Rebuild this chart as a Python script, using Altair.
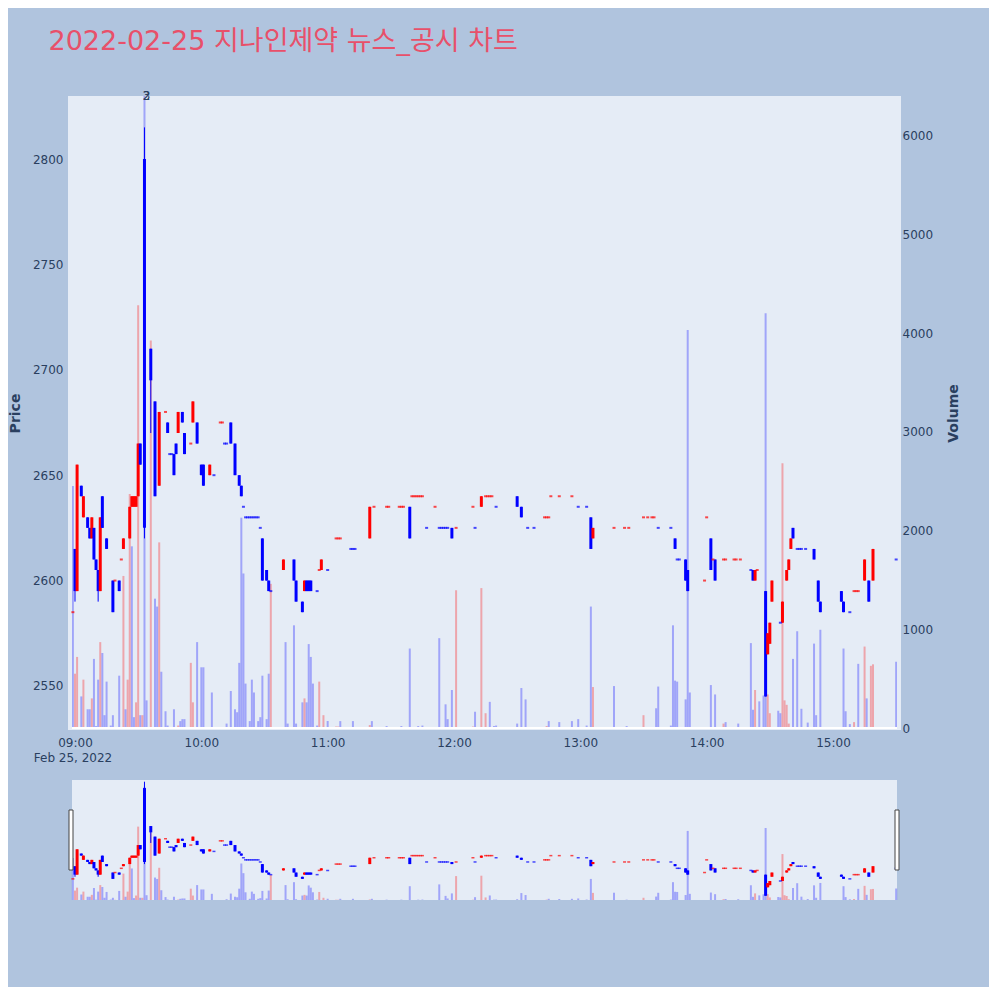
import altair as alt
import pandas as pd

TITLE = "2022-02-25 지나인제약 뉴스_공시 차트"

# ---- minute candles (minutes after 09:00) ----
c_minute = [-1, 0, 1, 3, 4, 6, 7, 8, 9, 10,
            11, 12, 13, 15, 18, 19, 21, 22, 23, 26,
            27, 28, 29, 30, 31, 33, 36, 38, 40, 43,
            44, 45, 46, 47, 48, 49, 51, 52, 55, 56,
            58, 60, 61, 64, 66, 69, 70, 71, 72, 74,
            76, 78, 79, 80, 81, 82, 83, 84, 85, 86,
            87, 88, 89, 91, 92, 93, 99, 104, 105, 108,
            109, 110, 111, 112, 115, 116, 117, 120, 124, 125,
            126, 131, 132, 133, 140, 142, 148, 149, 154, 155,
            156, 159, 160, 161, 162, 163, 164, 165, 167, 171,
            173, 174, 175, 176, 177, 179, 181, 189, 190, 193,
            195, 196, 197, 198, 200, 210, 212, 215, 218, 223,
            224, 225, 226, 230, 236, 239, 243, 245, 246, 256,
            261, 263, 270, 272, 274, 275, 277, 283, 285, 286,
            287, 290, 291, 299, 300, 302, 303, 304, 308, 309,
            313, 314, 316, 321, 322, 323, 324, 328, 329, 330,
            331, 335, 336, 338, 339, 340, 341, 343, 344, 345,
            347, 351, 353, 354, 364, 365, 368, 370, 371, 372,
            375, 377, 379, 390]
c_open = [2585, 2615, 2595, 2645, 2630, 2630, 2625, 2620, 2625, 2610,
          2605, 2595, 2640, 2620, 2600, 2600, 2600, 2610, 2615, 2620,
          2635, 2635, 2635, 2640, 2665, 2800, 2710, 2685, 2645, 2680,
          2675, 2660, 2660, 2660, 2665, 2670, 2680, 2670, 2665, 2675,
          2675, 2655, 2655, 2650, 2650, 2675, 2675, 2665, 2665, 2675,
          2665, 2650, 2645, 2635, 2630, 2630, 2630, 2630, 2630, 2630,
          2630, 2625, 2620, 2605, 2600, 2595, 2605, 2610, 2600, 2590,
          2595, 2600, 2600, 2600, 2595, 2605, 2605, 2605, 2620, 2620,
          2620, 2615, 2615, 2615, 2620, 2635, 2635, 2635, 2635, 2635,
          2635, 2635, 2640, 2640, 2640, 2640, 2640, 2640, 2625, 2635,
          2625, 2625, 2625, 2625, 2625, 2625, 2625, 2635, 2625, 2635,
          2640, 2640, 2640, 2640, 2635, 2640, 2635, 2625, 2625, 2630,
          2630, 2630, 2640, 2640, 2640, 2635, 2635, 2630, 2620, 2625,
          2625, 2625, 2630, 2630, 2630, 2630, 2625, 2625, 2620, 2610,
          2610, 2610, 2605, 2600, 2630, 2620, 2610, 2610, 2610, 2610,
          2610, 2610, 2610, 2605, 2605, 2600, 2605, 2595, 2565, 2570,
          2590, 2580, 2580, 2600, 2605, 2615, 2625, 2615, 2615, 2615,
          2615, 2615, 2600, 2590, 2595, 2590, 2585, 2595, 2595, 2595,
          2600, 2600, 2600, 2610]
c_high = [2585, 2615, 2655, 2645, 2640, 2630, 2625, 2630, 2625, 2610,
          2605, 2630, 2640, 2620, 2600, 2600, 2600, 2610, 2620, 2635,
          2640, 2640, 2640, 2665, 2665, 2815, 2710, 2685, 2680, 2680,
          2675, 2660, 2660, 2660, 2665, 2680, 2680, 2670, 2665, 2685,
          2675, 2655, 2655, 2655, 2650, 2675, 2675, 2665, 2665, 2675,
          2665, 2650, 2645, 2635, 2630, 2630, 2630, 2630, 2630, 2630,
          2630, 2625, 2620, 2605, 2600, 2595, 2610, 2610, 2600, 2590,
          2600, 2600, 2600, 2600, 2595, 2605, 2610, 2605, 2620, 2620,
          2620, 2615, 2615, 2615, 2635, 2635, 2635, 2635, 2635, 2635,
          2635, 2635, 2640, 2640, 2640, 2640, 2640, 2640, 2625, 2635,
          2625, 2625, 2625, 2625, 2625, 2625, 2625, 2635, 2625, 2640,
          2640, 2640, 2640, 2640, 2635, 2640, 2635, 2625, 2625, 2630,
          2630, 2630, 2640, 2640, 2640, 2635, 2635, 2630, 2625, 2625,
          2625, 2625, 2630, 2630, 2630, 2630, 2625, 2625, 2620, 2610,
          2610, 2610, 2605, 2600, 2630, 2620, 2610, 2610, 2610, 2610,
          2610, 2610, 2610, 2605, 2605, 2605, 2605, 2595, 2575, 2580,
          2600, 2580, 2590, 2605, 2610, 2620, 2625, 2615, 2615, 2615,
          2615, 2615, 2600, 2590, 2595, 2590, 2585, 2595, 2595, 2595,
          2610, 2600, 2615, 2610]
c_low = [2585, 2590, 2595, 2640, 2630, 2625, 2620, 2620, 2610, 2605,
         2590, 2595, 2625, 2615, 2585, 2600, 2595, 2610, 2615, 2620,
         2635, 2635, 2635, 2640, 2655, 2620, 2670, 2640, 2645, 2680,
         2670, 2660, 2660, 2650, 2660, 2670, 2675, 2660, 2665, 2675,
         2665, 2650, 2645, 2650, 2650, 2675, 2675, 2665, 2665, 2665,
         2650, 2645, 2640, 2635, 2630, 2630, 2630, 2630, 2630, 2630,
         2630, 2625, 2600, 2600, 2595, 2595, 2605, 2600, 2590, 2585,
         2595, 2595, 2595, 2595, 2595, 2605, 2605, 2605, 2620, 2620,
         2620, 2615, 2615, 2615, 2620, 2635, 2635, 2635, 2635, 2635,
         2635, 2620, 2640, 2640, 2640, 2640, 2640, 2640, 2625, 2635,
         2625, 2625, 2625, 2625, 2625, 2620, 2625, 2635, 2625, 2635,
         2640, 2640, 2640, 2640, 2635, 2635, 2630, 2625, 2625, 2630,
         2630, 2630, 2640, 2640, 2640, 2635, 2635, 2615, 2620, 2625,
         2625, 2625, 2630, 2630, 2630, 2630, 2625, 2625, 2615, 2610,
         2610, 2600, 2595, 2600, 2630, 2605, 2610, 2600, 2610, 2610,
         2610, 2610, 2610, 2605, 2600, 2600, 2605, 2545, 2565, 2570,
         2590, 2580, 2580, 2600, 2605, 2615, 2620, 2615, 2615, 2615,
         2615, 2610, 2590, 2585, 2590, 2585, 2585, 2595, 2595, 2595,
         2600, 2590, 2600, 2610]
c_close = [2585, 2595, 2655, 2640, 2640, 2625, 2620, 2630, 2610, 2605,
           2595, 2630, 2625, 2615, 2585, 2600, 2595, 2610, 2620, 2635,
           2640, 2640, 2640, 2665, 2655, 2625, 2695, 2640, 2680, 2680,
           2670, 2660, 2660, 2650, 2660, 2680, 2675, 2660, 2665, 2685,
           2665, 2650, 2645, 2655, 2650, 2675, 2675, 2665, 2665, 2665,
           2650, 2645, 2640, 2635, 2630, 2630, 2630, 2630, 2630, 2630,
           2630, 2625, 2600, 2600, 2595, 2595, 2610, 2600, 2590, 2585,
           2600, 2595, 2595, 2595, 2595, 2605, 2610, 2605, 2620, 2620,
           2620, 2615, 2615, 2615, 2635, 2635, 2635, 2635, 2635, 2635,
           2635, 2620, 2640, 2640, 2640, 2640, 2640, 2640, 2625, 2635,
           2625, 2625, 2625, 2625, 2625, 2620, 2625, 2635, 2625, 2640,
           2640, 2640, 2640, 2640, 2635, 2635, 2630, 2625, 2625, 2630,
           2630, 2630, 2640, 2640, 2640, 2635, 2635, 2615, 2625, 2625,
           2625, 2625, 2630, 2630, 2630, 2630, 2625, 2625, 2615, 2610,
           2610, 2600, 2595, 2600, 2630, 2605, 2610, 2600, 2610, 2610,
           2610, 2610, 2610, 2605, 2600, 2605, 2605, 2545, 2575, 2580,
           2600, 2580, 2590, 2605, 2610, 2620, 2620, 2615, 2615, 2615,
           2615, 2610, 2590, 2585, 2590, 2585, 2585, 2595, 2595, 2595,
           2610, 2590, 2615, 2610]

# ---- minute volumes ----
v_minute = [-1, 0, 1, 3, 4, 6, 7, 8, 9, 10,
            11, 12, 13, 14, 15, 17, 18, 19, 21, 23,
            24, 25, 26, 27, 28, 29, 30, 31, 32, 33,
            34, 36, 38, 39, 40, 41, 43, 44, 47, 49,
            50, 51, 52, 55, 56, 58, 60, 61, 65, 72,
            74, 76, 77, 78, 79, 80, 81, 83, 84, 85,
            87, 88, 89, 91, 92, 93, 100, 101, 104, 105,
            108, 109, 110, 111, 112, 113, 115, 116, 118, 120,
            124, 125, 126, 132, 140, 141, 148, 155, 159, 163,
            165, 173, 176, 177, 179, 181, 189, 190, 193, 195,
            197, 199, 200, 210, 212, 214, 224, 225, 230, 236,
            239, 243, 245, 246, 256, 262, 270, 276, 277, 283,
            284, 285, 286, 290, 291, 292, 302, 304, 308, 309,
            315, 321, 322, 323, 325, 327, 328, 329, 330, 334,
            335, 336, 337, 338, 339, 341, 343, 345, 346, 348,
            351, 352, 354, 365, 366, 368, 370, 372, 375, 376,
            378, 379, 390]
v_volume = [2450, 550, 720, 320, 490, 190, 190, 300, 700, 20,
            490, 870, 760, 130, 470, 25, 130, 10, 530, 1540,
            190, 490, 2370, 1840, 110, 260, 4280, 130, 130, 6600,
            280, 3925, 1310, 1230, 1880, 570, 170, 25, 190, 25,
            70, 90, 90, 660, 260, 870, 615, 615, 360, 45,
            375, 190, 160, 660, 2130, 1565, 450, 70, 490, 360,
            70, 110, 530, 90, 550, 1460, 870, 45, 1040, 45,
            260, 300, 260, 850, 720, 450, 25, 470, 130, 70,
            15, 15, 70, 70, 30, 70, 20, 20, 805, 20,
            25, 910, 240, 90, 385, 1395, 15, 165, 1417, 150,
            265, 20, 25, 45, 405, 290, 20, 70, 60, 70,
            90, 25, 1230, 415, 425, 20, 130, 200, 420, 25,
            1040, 480, 470, 290, 4030, 360, 435, 340, 45, 60,
            45, 860, 185, 385, 270, 330, 4200, 340, 150, 175,
            150, 2680, 280, 235, 45, 700, 980, 195, 10, 55,
            855, 130, 995, 805, 170, 40, 60, 650, 825, 300,
            630, 645, 670]
v_up = [0, 1, 1, 0, 1, 0, 0, 1, 0, 0,
        0, 1, 0, 0, 0, 0, 0, 1, 0, 1,
        0, 1, 1, 0, 0, 1, 1, 0, 1, 0,
        0, 1, 0, 0, 1, 0, 0, 0, 0, 1,
        0, 0, 0, 1, 1, 0, 0, 0, 0, 0,
        0, 0, 0, 0, 0, 0, 0, 0, 0, 0,
        0, 0, 0, 0, 0, 1, 0, 0, 0, 0,
        0, 1, 0, 0, 0, 0, 0, 1, 1, 0,
        1, 1, 0, 0, 1, 0, 0, 0, 0, 0,
        0, 0, 0, 0, 0, 1, 1, 0, 1, 1,
        0, 0, 0, 0, 0, 0, 1, 0, 0, 0,
        0, 0, 0, 1, 0, 0, 1, 0, 0, 0,
        0, 0, 0, 0, 0, 0, 0, 0, 1, 0,
        0, 0, 0, 1, 0, 0, 0, 1, 1, 0,
        0, 1, 1, 1, 1, 0, 0, 0, 0, 0,
        0, 0, 0, 0, 0, 0, 1, 0, 1, 0,
        1, 1, 0]

news_minute = [34, 34]
news_label = ["2", "3"]

x_ticks = [0, 60, 120, 180, 240, 300, 360]
price_ticks = [2550, 2600, 2650, 2700, 2750, 2800]
vol_ticks = [0, 1000, 2000, 3000, 4000, 5000, 6000]

# ---- tables ----
candles = pd.DataFrame({"minute": c_minute, "open": c_open, "high": c_high,
                        "low": c_low, "close": c_close})
dirs = []
last_dir, prev_close = "up", None
for o, c in zip(c_open, c_close):
    if c > o:
        d = "up"
    elif c < o:
        d = "down"
    elif prev_close is not None and c > prev_close:
        d = "up"
    elif prev_close is not None and c < prev_close:
        d = "down"
    else:
        d = last_dir
    dirs.append(d)
    last_dir, prev_close = d, c
candles["dir"] = dirs

vols = pd.DataFrame({"minute": v_minute, "volume": v_volume,
                     "dir": ["up" if u else "down" for u in v_up]})
news = pd.DataFrame({"minute": news_minute, "label": news_label})
one = pd.DataFrame({"k": [0]})

W = 825
MAIN_H = 634
SL_TOP, SL_BOT = 684, 804
H = SL_BOT
AX_FONT = "DejaVu Sans"
AX_COLOR = "#2a3f5f"

x_axis = alt.Axis(values=x_ticks, grid=False, ticks=False, tickSize=0, domain=False,
                  labelExpr="(datum.value/60 + 9 < 10 ? '0' : '') + (datum.value/60 + 9) + ':00'",
                  labelFont=AX_FONT, labelFontSize=12, labelColor=AX_COLOR,
                  labelFlush=False, labelPadding=7, offset=-(H - MAIN_H), title=None)
x_enc = alt.X("minute:Q", scale=alt.Scale(domain=[-1.42, 390.4], nice=False, zero=False,
                                          padding=0),
              axis=x_axis)
color_enc = alt.Color("dir:N", scale=alt.Scale(domain=["up", "down"],
                                               range=["#ff0000", "#0000ff"]), legend=None)

price_scale = alt.Scale(domain=[2529.1, 2829.9], range=[MAIN_H, 0], nice=False, zero=False,
                        padding=0)
price_axis = alt.Axis(values=price_ticks, orient="left", format="d", grid=True,
                      gridColor="white", gridWidth=1, ticks=False, tickSize=0, domain=False,
                      labelFont=AX_FONT, labelFontSize=12, labelColor=AX_COLOR, labelPadding=9,
                      title="Price", titleFont=AX_FONT, titleFontSize=14, titleFontWeight="bold",
                      titleColor=AX_COLOR, titlePadding=10)
vol_scale = alt.Scale(domain=[-20, 6400], range=[MAIN_H, 0], nice=False, zero=False, padding=0)
vol_axis = alt.Axis(values=vol_ticks, orient="right", format="d", grid=True,
                    gridColor="#a0a0a0", gridWidth=1.5, ticks=False, tickSize=0, domain=False,
                    labelFont=AX_FONT, labelFontSize=12, labelColor=AX_COLOR, labelPadding=5,
                    title="Volume", titleFont=AX_FONT, titleFontSize=14, titleFontWeight="bold",
                    titleColor=AX_COLOR, titlePadding=28, titleAngle=270)
sl_price_scale = alt.Scale(domain=[2535, 2819], range=[SL_BOT, SL_TOP], nice=False, zero=False,
                           padding=0)
sl_vol_scale = alt.Scale(domain=[0, 7000], range=[SL_BOT, SL_TOP], nice=False, zero=False,
                         padding=0)

# backgrounds
main_bg = alt.Chart(one).mark_rect(color="#e5ecf6").encode(
    x=alt.value(-4), x2=alt.value(W + 4), y=alt.value(0), y2=alt.value(MAIN_H))
sl_bg = alt.Chart(one).mark_rect(color="#e5ecf6").encode(
    x=alt.value(0), x2=alt.value(W), y=alt.value(SL_TOP), y2=alt.value(SL_BOT))

# main volume
vol_bars = alt.Chart(vols).mark_bar(size=2, opacity=0.3, clip=True).encode(
    x=x_enc, y=alt.Y("volume:Q", scale=vol_scale, axis=vol_axis), y2=alt.datum(0),
    color=color_enc)
vol_zero = alt.Chart(one).mark_rule(color="white", strokeWidth=2).encode(
    x=alt.value(0), x2=alt.value(W), y=alt.datum(0, type="quantitative"))
vol_layer = alt.layer(vol_bars, vol_zero)

# main candles
wick = alt.Chart(candles).mark_rule(strokeWidth=1).encode(
    x=x_enc, y=alt.Y("low:Q", scale=price_scale, axis=price_axis), y2="high:Q",
    color=color_enc)
body = alt.Chart(candles).mark_bar(size=3).encode(
    x=x_enc, y=alt.Y("open:Q", scale=price_scale, axis=price_axis), y2="close:Q",
    color=color_enc)
doji = alt.Chart(candles).transform_filter("datum.open == datum.close").mark_tick(
    orient="horizontal", size=3, thickness=2).encode(
    x=x_enc, y=alt.Y("close:Q", scale=price_scale, axis=price_axis), color=color_enc)
candle_layer = alt.layer(wick, body, doji)

# range slider
sl_vol = alt.Chart(vols).mark_bar(size=2, opacity=0.3).encode(
    x=x_enc, y=alt.Y("volume:Q", scale=sl_vol_scale, axis=None), y2=alt.datum(0),
    color=color_enc)
sl_wick = alt.Chart(candles).mark_rule(strokeWidth=1).encode(
    x=x_enc, y=alt.Y("low:Q", scale=sl_price_scale, axis=None), y2="high:Q",
    color=color_enc)
sl_body = alt.Chart(candles).mark_bar(size=3).encode(
    x=x_enc, y=alt.Y("open:Q", scale=sl_price_scale, axis=None), y2="close:Q",
    color=color_enc)
sl_doji = alt.Chart(candles).transform_filter("datum.open == datum.close").mark_tick(
    orient="horizontal", size=3, thickness=1.5).encode(
    x=x_enc, y=alt.Y("close:Q", scale=sl_price_scale, axis=None), color=color_enc)
sl_candles = alt.layer(sl_wick, sl_body, sl_doji)

handle_l = alt.Chart(one).mark_rect(fill="white", stroke="#444444", strokeWidth=1).encode(
    x=alt.value(-3), x2=alt.value(1), y=alt.value(SL_TOP + 30), y2=alt.value(SL_TOP + 90))
handle_r = alt.Chart(one).mark_rect(fill="white", stroke="#444444", strokeWidth=1).encode(
    x=alt.value(W - 2), x2=alt.value(W + 2), y=alt.value(SL_TOP + 30), y2=alt.value(SL_TOP + 90))

date_text = alt.Chart(one).mark_text(font=AX_FONT, fontSize=12, color=AX_COLOR,
                                     align="center", baseline="middle").encode(
    x=alt.value(1), y=alt.value(MAIN_H + 28), text=alt.value("Feb 25, 2022"))
news_text = alt.Chart(news).mark_text(font=AX_FONT, fontSize=12, color=AX_COLOR,
                                      align="center", baseline="middle").encode(
    x=x_enc, y=alt.value(0), text="label:N")

chart = alt.layer(
    main_bg, sl_bg, vol_layer, candle_layer, sl_vol, sl_candles,
    handle_l, handle_r, date_text, news_text
).resolve_scale(y="independent").properties(
    width=W, height=H,
    title=alt.TitleParams(text=TITLE, anchor="start", fontSize=27,
                          font="DejaVu Sans, Noto Sans CJK KR", color="#e8506a",
                          fontWeight="normal", dx=40, offset=34),
    padding={"left": 0, "top": 20, "right": 28, "bottom": 87},
).configure(background="#b0c4de").configure_view(stroke="transparent", fill="transparent")

chart.save("out.html", embed_options={"renderer": "svg", "actions": False})
